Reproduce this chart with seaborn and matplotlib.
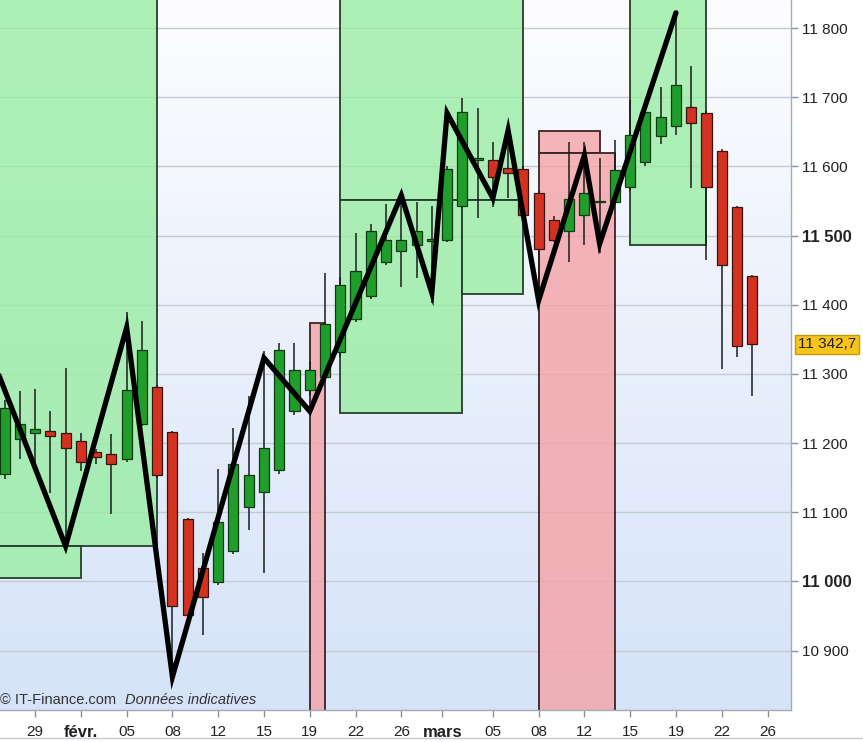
import numpy as np
import pandas as pd
import matplotlib
matplotlib.use("Agg")
import matplotlib.pyplot as plt
import matplotlib.colors as mcolors
from matplotlib.patches import Rectangle
import seaborn as sns

# daily candles, index 0 = 27 janv.
opens = [11155, 11206, 11215, 11217, 11215, 11203, 11187, 11184, 11177, 11228,
         11281, 11216, 11090, 11019, 10999, 11044, 11107, 11129, 11161, 11247,
         11277, 11295, 11331, 11380, 11413, 11461, 11477, 11486, 11492, 11494,
         11543, 11609, 11609, 11598, 11596, 11561, 11523, 11506, 11529, 11548,
         11548, 11570, 11607, 11644, 11658, 11686, 11677, 11622, 11541, 11441]
highs = [11262, 11275, 11278, 11246, 11309, 11215, 11192, 11213, 11389, 11377,
         11284, 11218, 11092, 11041, 11162, 11222, 11268, 11333, 11344, 11345,
         11319, 11446, 11440, 11504, 11517, 11546, 11558, 11548, 11543, 11600,
         11699, 11684, 11635, 11652, 11600, 11565, 11528, 11635, 11635, 11612,
         11638, 11696, 11680, 11714, 11823, 11745, 11680, 11625, 11543, 11443]
lows = [11148, 11177, 11170, 11128, 11051, 11160, 11170, 11097, 11172, 11225,
        11150, 10860, 10945, 10923, 10995, 11040, 11074, 11012, 11155, 11240,
        11270, 11290, 11325, 11375, 11408, 11457, 11425, 11439, 11403, 11490,
        11540, 11525, 11541, 11554, 11525, 11406, 11490, 11461, 11486, 11474,
        11545, 11565, 11600, 11633, 11645, 11568, 11464, 11307, 11325, 11268]
closes = [11251, 11228, 11220, 11210, 11193, 11173, 11180, 11170, 11277, 11335,
          11154, 10964, 10952, 10978, 11086, 11170, 11154, 11193, 11335, 11306,
          11306, 11372, 11428, 11449, 11507, 11494, 11494, 11506, 11494, 11596,
          11678, 11611, 11584, 11591, 11529, 11481, 11493, 11553, 11561, 11550,
          11594, 11645, 11678, 11672, 11717, 11662, 11570, 11457, 11340, 11342.7]

# zigzag pivots (candle index, price)
zz_idx = [-2, 4, 8, 11, 17, 20, 26, 28, 29, 32, 33, 35, 38, 39, 44]
zz_val = [11390, 11051, 11367, 10862, 11323, 11246, 11558, 11417, 11677,
          11554, 11652, 11406, 11616, 11488, 11822]

# zones: (start idx, end idx, low, high)
green_zones = [(-3, 10, 11051, 12000), (-3, 5, 11005, 11051),
               (22, 34, 11551, 12000), (22, 30, 11243, 11551),
               (30, 34, 11416, 11551), (41, 46, 11486, 12000)]
red_zones = [(20, 21, 10700, 11373), (35, 39, 11619, 11651),
             (35, 40, 10700, 11619)]

tick_pos = [2, 5, 8, 11, 14, 17, 20, 23, 26, 28.7, 32, 35, 38, 41, 44, 47, 50]
tick_labels = ["29", "févr.", "05", "08", "12", "15", "19", "22", "26", "mars",
               "05", "08", "12", "15", "19", "22", "26"]
y_ticks = [10900, 11000, 11100, 11200, 11300, 11400, 11500, 11600, 11700, 11800]
last_price = 11342.7

sns.set_theme(style="white")
plt.rcParams["font.family"] = ["Liberation Sans", "DejaVu Sans"]

fig = plt.figure(figsize=(8.63, 7.42), dpi=100)
ax = fig.add_axes([0, 32 / 742, 791 / 863, 710 / 742])

xlim = (-0.3, 51.54)
ylim = (10814, 11840.5)

# background gradient white -> light blue
top = np.array(mcolors.to_rgb("#fdfdff"))
bot = np.array(mcolors.to_rgb("#d5e3f8"))
t = np.linspace(0, 1, 256)[:, None]
grad = (top * (1 - t) + bot * t)[:, None, :]
ax.imshow(grad, extent=(*xlim, ylim[0], ylim[1]), aspect="auto", zorder=0,
          origin="upper")

ax.set_axisbelow(True)
ax.grid(axis="y", color="#c4c9d2", lw=1)
ax.grid(axis="x", visible=False)

for x0, x1, y0, y1 in green_zones:
    ax.add_patch(Rectangle((x0, y0), x1 - x0, y1 - y0,
                           fc=mcolors.to_rgba("#9aeda4", 0.8),
                           ec="#24402a", lw=1.3, zorder=1))
for x0, x1, y0, y1 in red_zones:
    ax.add_patch(Rectangle((x0, y0), x1 - x0, y1 - y0,
                           fc=mcolors.to_rgba("#f4a2a6", 0.8),
                           ec="#3a2424", lw=1.3, zorder=1))

df = pd.DataFrame({"o": opens, "h": highs, "l": lows, "c": closes})
df["i"] = np.arange(len(df))
up = df["c"] >= df["o"]

ax.vlines(df["i"], df["l"], df["h"], color="#1c1c1c", lw=1.1, zorder=2)
body = (df["c"] - df["o"]).abs().clip(lower=2.5)
base = df[["o", "c"]].min(axis=1)
ax.bar(df["i"][up], body[up], bottom=base[up], width=0.66,
       color="#1f9e2c", edgecolor="#123a14", linewidth=0.9, zorder=3)
ax.bar(df["i"][~up], body[~up], bottom=base[~up], width=0.66,
       color="#d2321f", edgecolor="#3a1410", linewidth=0.9, zorder=3)

sns.lineplot(x=zz_idx, y=zz_val, sort=False, color="black", linewidth=3.8,
             ax=ax, zorder=4, solid_joinstyle="miter")

ax.set_xlim(*xlim)
ax.set_ylim(*ylim)

for s in ["top", "left"]:
    ax.spines[s].set_visible(False)
for s in ["right", "bottom"]:
    ax.spines[s].set_color("#a3abba")
    ax.spines[s].set_linewidth(1)

ax.yaxis.tick_right()
ax.set_yticks(y_ticks)
ax.set_yticklabels([f"{v:,}".replace(",", " ") for v in y_ticks])
ax.tick_params(axis="y", right=True, left=False, length=5, width=1,
               color="#8a93a4", pad=3, labelsize=11, labelcolor="#222222")
for lab, v in zip(ax.get_yticklabels(), y_ticks):
    if v in (11000, 11500):
        lab.set_fontweight("bold")
        lab.set_fontsize(12)

ax.set_xticks(tick_pos)
ax.set_xticklabels(tick_labels)
ax.tick_params(axis="x", bottom=True, length=5, width=1, color="#8a93a4",
               pad=6, labelsize=11, labelcolor="#222222")
for lab in ax.get_xticklabels():
    if lab.get_text() in ("févr.", "mars"):
        lab.set_fontweight("bold")
        lab.set_fontsize(12)
ax.set_xlabel("")
ax.set_ylabel("")

ax.text(0.0, 0.004, "© IT-Finance.com", transform=ax.transAxes, fontsize=10.5,
        color="#333333", va="bottom", ha="left", zorder=5)
ax.text(125 / 791, 0.004, "Données indicatives", transform=ax.transAxes,
        fontsize=10.5, style="italic", color="#333333", va="bottom", ha="left",
        zorder=5)

ax.annotate(f"{last_price:,.1f}".replace(",", " ").replace(".", ","),
            xy=(1, last_price), xycoords=("axes fraction", "data"),
            xytext=(5, 0), textcoords="offset points", va="center", ha="left",
            fontsize=11, color="#222222", annotation_clip=False,
            bbox=dict(boxstyle="square,pad=0.18", fc="#f6c41c", ec="#c99a00", lw=1))

fig.add_artist(plt.Line2D([0, 1], [4 / 742, 4 / 742], color="#c3cad6", lw=1))

fig.savefig("out.png", dpi=100)
